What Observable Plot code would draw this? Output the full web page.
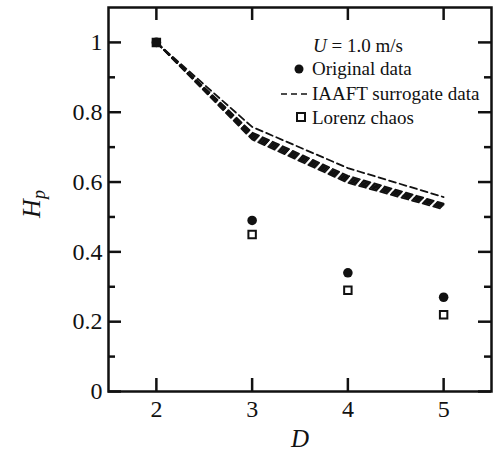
<!DOCTYPE html>
<html><head><meta charset="utf-8">
<script src="https://cdn.jsdelivr.net/npm/d3@7"></script>
<script src="https://cdn.jsdelivr.net/npm/@observablehq/plot@0.6"></script>
<style>
body{margin:0;background:#fff} svg{display:block}
svg, svg text { font-family: "Liberation Serif", "Times New Roman", "DejaVu Serif", serif !important; }
</style>
</head><body><div id="chart"></div>
<script>
// ---- data ----
const D = [2, 3, 4, 5];
const original = [1.0, 0.49, 0.34, 0.27];
const lorenz = [1.0, 0.45, 0.29, 0.22];
// IAAFT surrogate realisations (H_p at D = 2,3,4,5)
const surrogate1 = [1.0, 0.758, 0.640, 0.557];
const surrogate2 = [1.0, 0.742, 0.618, 0.538];
const surrogate3 = [1.0, 0.738, 0.614, 0.535];
const surrogate4 = [1.0, 0.734, 0.610, 0.532];
const surrogate5 = [1.0, 0.730, 0.606, 0.529];
const surrogate6 = [1.0, 0.726, 0.602, 0.526];
const surrogate7 = [1.0, 0.722, 0.598, 0.522];
const surrogates = [surrogate1, surrogate2, surrogate3, surrogate4, surrogate5, surrogate6, surrogate7];
const xTicks = [2, 3, 4, 5];
const yTicks = [0, 0.2, 0.4, 0.6, 0.8, 1];
const yMinor = [0.1, 0.3, 0.5, 0.7, 0.9];
const legendTitle = {italic: "U", rest: " = 1.0 m/s"};
const legendLabels = ["Original data", "IAAFT surrogate data", "Lorenz chaos"];
const xLabel = "D", yLabel = "H", ySub = "p";

// ---- tables ----
const pts = (vals) => D.map((d, i) => ({D: d, H: vals[i]}));
const surRows = surrogates.flatMap((s, k) => D.map((d, i) => ({D: d, H: s[i], id: k})));

const W = 493, H = 455, mL = 108, mR = 2, mT = 7, mB = 64;
const innerW = W - mL - mR, innerH = H - mT - mB;
const major = 13, minor = 7, sw = 2.5;
const font = "Liberation Serif";

const chart = Plot.plot({
  width: W, height: H,
  marginLeft: mL, marginRight: mR, marginTop: mT, marginBottom: mB,
  style: {fontFamily: font, fontSize: "24px", color: "#111", background: "#fff"},
  x: {domain: [1.5, 5.5]},
  y: {domain: [0, 1.1]},
  marks: [
    Plot.line(surRows, {x: "D", y: "H", z: "id", stroke: "#111", strokeWidth: 1.8, strokeDasharray: "7,4"}),
    Plot.dot(pts(lorenz), {x: "D", y: "H", symbol: "square", r: 4.2, stroke: "#111", strokeWidth: 2, fill: "#fff"}),
    Plot.dot(pts(original), {x: "D", y: "H", r: 4.8, fill: "#111", stroke: "none"}),
    // inward ticks
    Plot.tickX(xTicks, {x: d => d, insetTop: innerH - major, stroke: "#111", strokeWidth: sw}),
    Plot.tickX(xTicks, {x: d => d, insetBottom: innerH - major, stroke: "#111", strokeWidth: sw}),
    Plot.tickY(yTicks, {y: d => d, insetRight: innerW - major, stroke: "#111", strokeWidth: sw}),
    Plot.tickY(yTicks, {y: d => d, insetLeft: innerW - major, stroke: "#111", strokeWidth: sw}),
    Plot.tickY(yMinor, {y: d => d, insetRight: innerW - minor, stroke: "#111", strokeWidth: sw}),
    Plot.tickY(yMinor, {y: d => d, insetLeft: innerW - minor, stroke: "#111", strokeWidth: sw}),
    Plot.axisX(xTicks, {tickSize: 0, tickPadding: 8, label: null, fontSize: 24, fontFamily: font, fill: "#111"}),
    Plot.axisY(yTicks, {tickSize: 0, tickPadding: 6, label: null, fontSize: 24, fontFamily: font, fill: "#111", tickFormat: d => String(d)}),
    Plot.frame({stroke: "#111", strokeWidth: sw})
  ]
});
document.getElementById("chart").appendChild(chart);

// ---- annotations: axis titles and legend ----
const svg = d3.select(chart);
const g = svg.append("g").attr("fill", "#111");
g.append("text").attr("x", 300).attr("y", 447).attr("text-anchor", "middle")
  .attr("font-size", 25).attr("font-style", "italic").text(xLabel);
const yl = g.append("text").attr("transform", "translate(40,204) rotate(-90)")
  .attr("text-anchor", "middle").attr("font-size", 26).attr("font-style", "italic");
yl.append("tspan").text(yLabel);
yl.append("tspan").attr("font-size", 18).attr("dy", 5).text(ySub);

const lg = g.append("g").attr("font-size", 19);
const t0 = lg.append("text").attr("x", 358).attr("y", 52).attr("text-anchor", "middle");
t0.append("tspan").attr("font-style", "italic").text(legendTitle.italic);
t0.append("tspan").text(legendTitle.rest);
lg.append("circle").attr("cx", 299).attr("cy", 69).attr("r", 4.5).attr("fill", "#111");
lg.append("line").attr("x1", 281).attr("x2", 308).attr("y1", 94).attr("y2", 94)
  .attr("stroke", "#111").attr("stroke-width", 1.4).attr("stroke-dasharray", "6,4");
lg.append("rect").attr("x", 297).attr("y", 113).attr("width", 8).attr("height", 8)
  .attr("fill", "#fff").attr("stroke", "#111").attr("stroke-width", 2);
[75, 100, 124].forEach((y, i) => {
  lg.append("text").attr("x", 312).attr("y", y).attr("text-anchor", "start").text(legendLabels[i]);
});
</script>
</body></html>
